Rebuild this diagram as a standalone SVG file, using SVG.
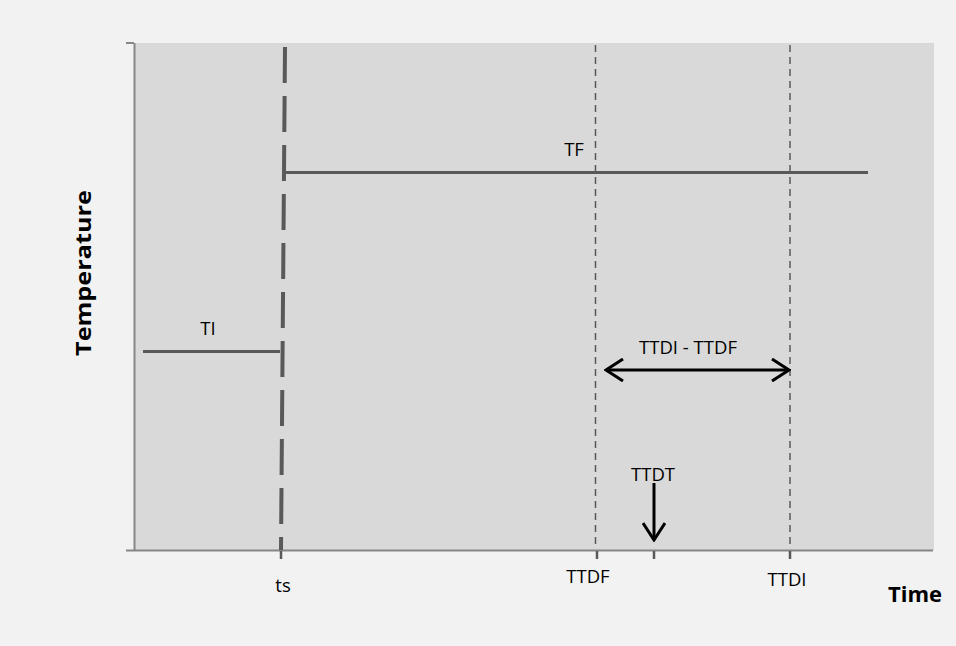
<svg xmlns="http://www.w3.org/2000/svg" width="956" height="646" viewBox="0 0 956 646">
  <defs>
    <style>
      .lbl { font-family: "Open Sans", "Liberation Sans", sans-serif; font-size: 18.5px; fill: #000; text-anchor: middle; }
      .ttl { font-family: "Open Sans", "Liberation Sans", sans-serif; font-size: 22px; font-weight: bold; fill: #000; text-anchor: middle; }
      .axis { stroke: #868686; stroke-width: 2; fill: none; }
      .tick { stroke: #595959; stroke-width: 2.5; fill: none; }
      .level { stroke: #595959; stroke-width: 3; fill: none; }
      .thin-dash { stroke: #595959; stroke-width: 1.5; stroke-dasharray: 7 5; fill: none; }
      .thick-dash { stroke: #595959; stroke-width: 4; stroke-dasharray: 36 13; fill: none; }
      .arrow { stroke: #000; stroke-width: 3; fill: none; }
    </style>
    <marker id="chev" viewBox="0 0 20 24" refX="18" refY="12" markerWidth="20" markerHeight="24" markerUnits="userSpaceOnUse" orient="auto-start-reverse">
      <path d="M1,1 L18,12 L1,23" fill="none" stroke="#000" stroke-width="3"/>
    </marker>
  </defs>

  <rect x="0" y="0" width="956" height="646" fill="#f2f2f2"/>
  <rect id="plot-area" x="135" y="43" width="799" height="507" fill="#d9d9d9"/>

  <g id="axes">
    <line class="axis" x1="134.5" y1="43" x2="134.5" y2="551"/>
    <line class="axis" x1="126" y1="43" x2="134" y2="43"/>
    <line class="axis" x1="126" y1="550.5" x2="933" y2="550.5"/>
  </g>

  <g id="connectors">
    <line class="thick-dash" x1="285" y1="47" x2="281" y2="550"/>
    <line class="thin-dash" x1="595.5" y1="45" x2="595.5" y2="549"/>
    <line class="thin-dash" x1="790" y1="45" x2="790" y2="549"/>
    <line class="arrow" x1="606" y1="370" x2="789" y2="370" marker-start="url(#chev)" marker-end="url(#chev)"/>
    <line class="arrow" x1="654" y1="483" x2="654" y2="540" marker-end="url(#chev)"/>
    <line class="tick" x1="281" y1="551" x2="281" y2="559"/>
    <line class="tick" x1="597" y1="551" x2="597" y2="559"/>
    <line class="tick" x1="654" y1="551" x2="654" y2="559"/>
    <line class="tick" x1="790" y1="551" x2="790" y2="559"/>
  </g>

  <g id="TI">
    <line class="level" x1="143" y1="351.5" x2="280" y2="351.5"/>
    <text class="lbl" x="208" y="335">TI</text>
  </g>

  <g id="TF">
    <line class="level" x1="285" y1="172.5" x2="868" y2="172.5"/>
    <text class="lbl" x="574" y="156">TF</text>
  </g>

  <g id="range-label">
    <text class="lbl" x="688" y="354">TTDI - TTDF</text>
  </g>

  <g id="TTDT">
    <text class="lbl" x="653" y="481">TTDT</text>
  </g>

  <g id="x-labels">
    <text class="lbl" x="283" y="592">ts</text>
    <text class="lbl" x="588" y="583">TTDF</text>
    <text class="lbl" x="787" y="586">TTDI</text>
  </g>

  <g id="axis-titles">
    <text class="ttl" x="915" y="602">Time</text>
    <text class="ttl" x="0" y="0" transform="translate(91,273) rotate(-90)" textLength="166" lengthAdjust="spacingAndGlyphs">Temperature</text>
  </g>
</svg>
